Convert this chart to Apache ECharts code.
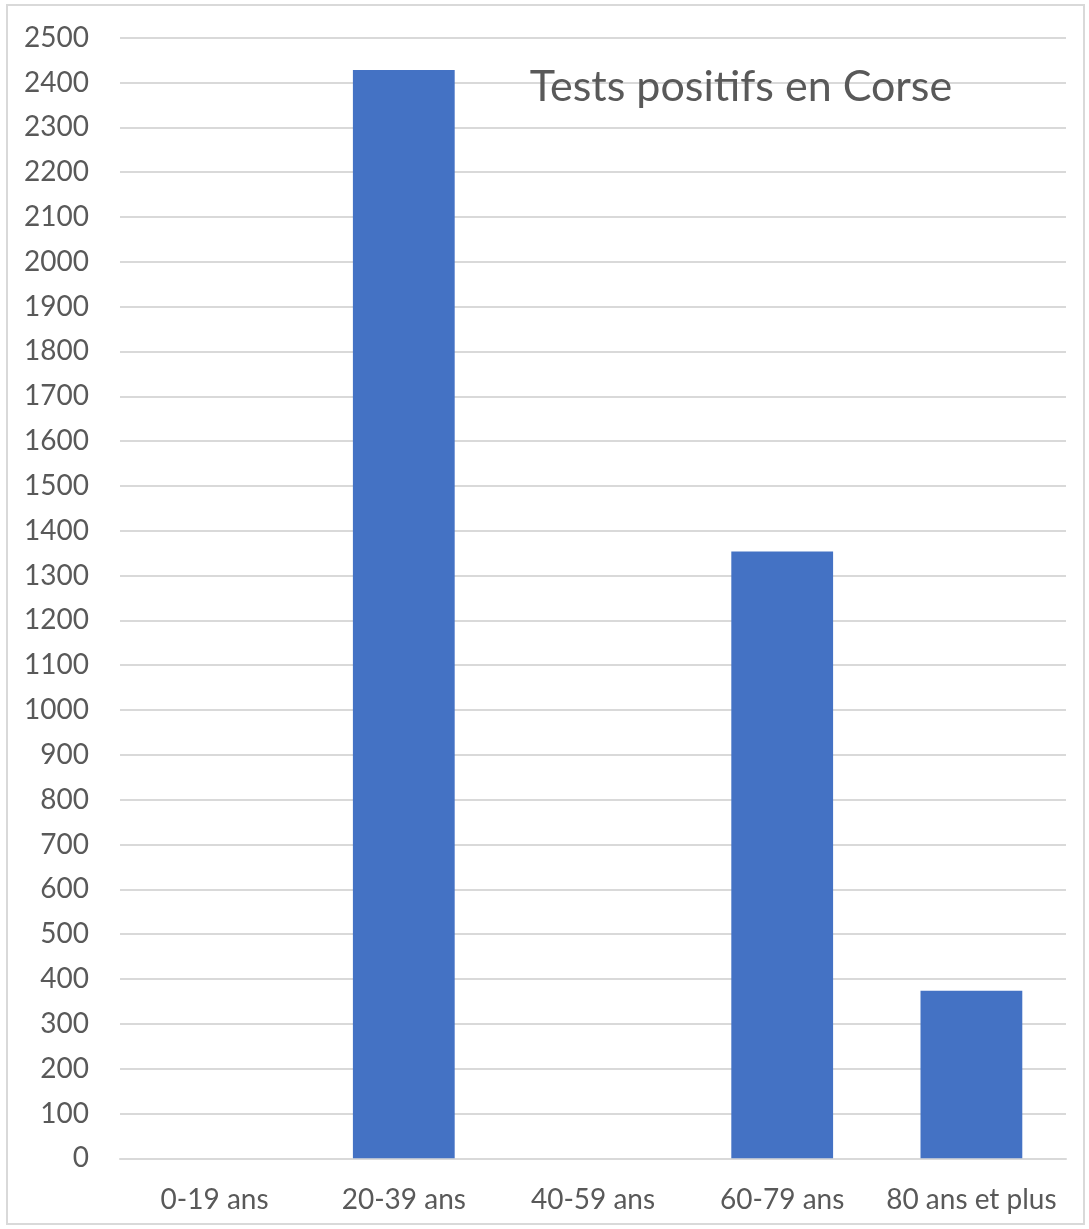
<!DOCTYPE html>
<html>
<head>
<meta charset="utf-8">
<style>
    html, body { margin: 0; padding: 0; background: #ffffff; }
    #frame {
        position: absolute; left: 6px; top: 4px; width: 1079px; height: 1221px;
        border: 2px solid #d9d9d9; box-sizing: border-box;
    }
    #chart { position: absolute; left: 0; top: 0; width: 1089px; height: 1229px; }
</style>
</head>
<body>
<div id="frame"></div>
<div id="chart"></div>
<script src="https://cdn.jsdelivr.net/npm/echarts@6/dist/echarts.min.js"></script>
<script type="text/javascript">
    var categories = ['0-19 ans', '20-39 ans', '40-59 ans', '60-79 ans', '80 ans et plus'];
    var positives = [0, 2428, 0, 1354, 374];
    var chartTitle = 'Tests positifs en Corse';

    var textColor = '#595959';
    var fontName = 'Lato, "Open Sans", sans-serif';

    var myChart = echarts.init(document.getElementById('chart'));
    myChart.setOption({
        animation: false,
        title: {
            text: chartTitle,
            left: 736,
            top: 61,
            textAlign: 'center',
            textStyle: { color: textColor, fontSize: 43, fontWeight: 'normal', fontFamily: fontName }
        },
        grid: { left: 120, right: 23, top: 37.7, bottom: 70.7 },
        xAxis: {
            type: 'category',
            data: categories,
            axisLine: { lineStyle: { color: '#d9d9d9', width: 2 } },
            axisTick: { show: false },
            axisLabel: { color: textColor, fontSize: 28, fontFamily: fontName, margin: 28, interval: 0 }
        },
        yAxis: {
            type: 'value',
            min: 0,
            max: 2500,
            interval: 100,
            axisLine: { show: false },
            axisTick: { show: false },
            splitLine: { lineStyle: { color: '#d9d9d9', width: 2 } },
            axisLabel: {
                color: textColor, fontSize: 28, fontFamily: fontName, margin: 31,
                formatter: function (v) { return String(v); }
            }
        },
        series: [{
            type: 'bar',
            data: positives,
            barWidth: '53.8%',
            itemStyle: { color: '#4472c4' }
        }]
    });
</script>
</body>
</html>
